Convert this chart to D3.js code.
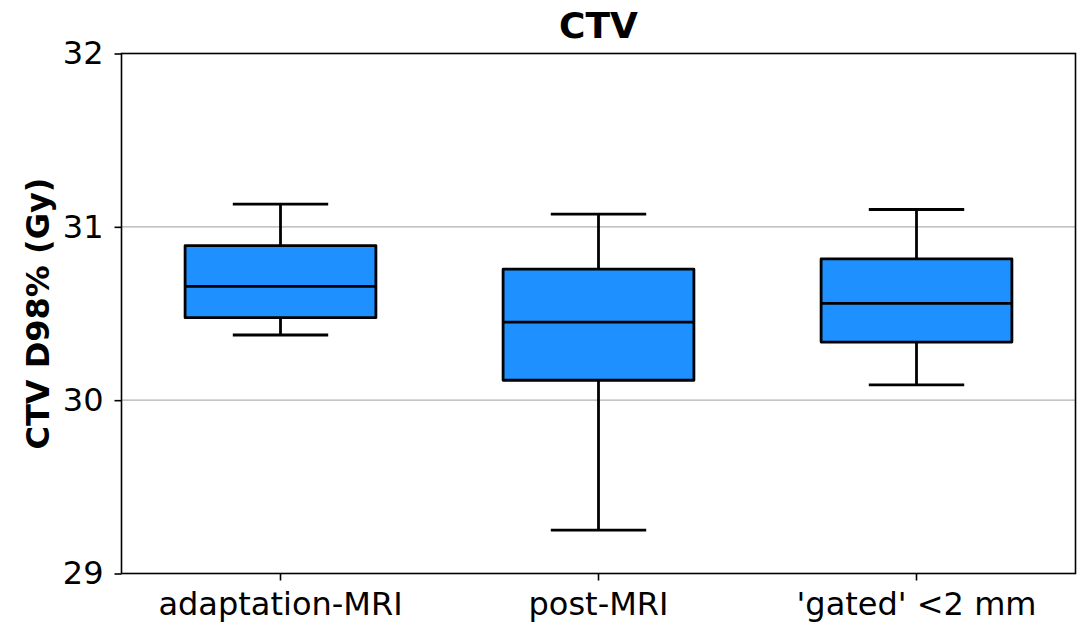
<!DOCTYPE html>
<html><head><meta charset="utf-8">
<script src="https://cdn.jsdelivr.net/npm/d3@7"></script>
<style>body{margin:0;background:#fff}svg{display:block}text{font-family:"DejaVu Sans",sans-serif}</style>
</head><body><svg id="c" width="1083" height="623"></svg>
<script>
const categories = ["adaptation-MRI", "post-MRI", "'gated' <2 mm"];
const whiskerLow = [30.376, 29.25, 30.088];
const q1 = [30.476, 30.115, 30.335];
const median = [30.657, 30.45, 30.558];
const q3 = [30.892, 30.756, 30.815];
const whiskerHigh = [31.131, 31.073, 31.10];
const yTicks = [29, 30, 31, 32];
const title = "CTV";
const yLabel = "CTV D98% (Gy)";

const svg = d3.select("#c");
const m = {l: 121.5, r: 1075.5, t: 53.5, b: 573.5};
const x = d3.scaleBand().domain(categories).range([m.l, m.r]).paddingInner(0).paddingOuter(0);
const y = d3.scaleLinear().domain([29, 32]).range([m.b, m.t]);
const boxW = x.bandwidth() * 0.6;
const capW = boxW / 2;

// grid
svg.append("g").selectAll("line").data(yTicks.filter(t => t > 29 && t < 32)).join("line")
  .attr("x1", m.l).attr("x2", m.r).attr("y1", d => y(d)).attr("y2", d => y(d))
  .attr("stroke", "#b0b0b0").attr("stroke-width", 1.3);

const data = categories.map((c, i) => ({c, lo: whiskerLow[i], q1: q1[i], med: median[i], q3: q3[i], hi: whiskerHigh[i]}));
const g = svg.append("g").selectAll("g").data(data).join("g")
  .attr("transform", d => `translate(${x(d.c) + x.bandwidth() / 2},0)`);
const sw = 2.8;
g.append("line").attr("x1", 0).attr("x2", 0).attr("y1", d => y(d.hi)).attr("y2", d => y(d.q3)).attr("stroke", "#000").attr("stroke-width", sw);
g.append("line").attr("x1", 0).attr("x2", 0).attr("y1", d => y(d.q1)).attr("y2", d => y(d.lo)).attr("stroke", "#000").attr("stroke-width", sw);
g.append("line").attr("x1", -capW / 2).attr("x2", capW / 2).attr("y1", d => y(d.hi)).attr("y2", d => y(d.hi)).attr("stroke", "#000").attr("stroke-width", sw);
g.append("line").attr("x1", -capW / 2).attr("x2", capW / 2).attr("y1", d => y(d.lo)).attr("y2", d => y(d.lo)).attr("stroke", "#000").attr("stroke-width", sw);
g.append("rect").attr("x", -boxW / 2).attr("width", boxW).attr("y", d => y(d.q3)).attr("height", d => y(d.q1) - y(d.q3))
  .attr("fill", "#1E90FF").attr("stroke", "#000").attr("stroke-width", sw).attr("stroke-linejoin", "round");
g.append("line").attr("x1", -boxW / 2).attr("x2", boxW / 2).attr("y1", d => y(d.med)).attr("y2", d => y(d.med)).attr("stroke", "#000").attr("stroke-width", sw);

// axes
const ya = svg.append("g").attr("transform", `translate(${m.l},0)`)
  .call(d3.axisLeft(y).tickValues(yTicks).tickFormat(d3.format("d")).tickSize(7).tickPadding(11));
const xa = svg.append("g").attr("transform", `translate(0,${m.b})`)
  .call(d3.axisBottom(x).tickSize(7).tickPadding(12));
[ya, xa].forEach(a => {
  a.select(".domain").remove();
  a.selectAll(".tick line").attr("stroke", "#000").attr("stroke-width", 1.6);
  a.selectAll(".tick text").attr("fill", "#000").style("font-size", "32px").style("font-family", "DejaVu Sans");
});
svg.append("rect").attr("x", m.l).attr("y", m.t).attr("width", m.r - m.l).attr("height", m.b - m.t)
  .attr("fill", "none").attr("stroke", "#000").attr("stroke-width", 1.6);

svg.append("text").attr("x", (m.l + m.r) / 2).attr("y", 38).attr("text-anchor", "middle")
  .style("font-size", "36px").style("font-weight", "bold").text(title);
svg.append("text").attr("transform", `translate(49,${(m.t + m.b) / 2}) rotate(-90)`).attr("text-anchor", "middle")
  .style("font-size", "32px").style("font-weight", "bold").text(yLabel);
</script></body></html>
